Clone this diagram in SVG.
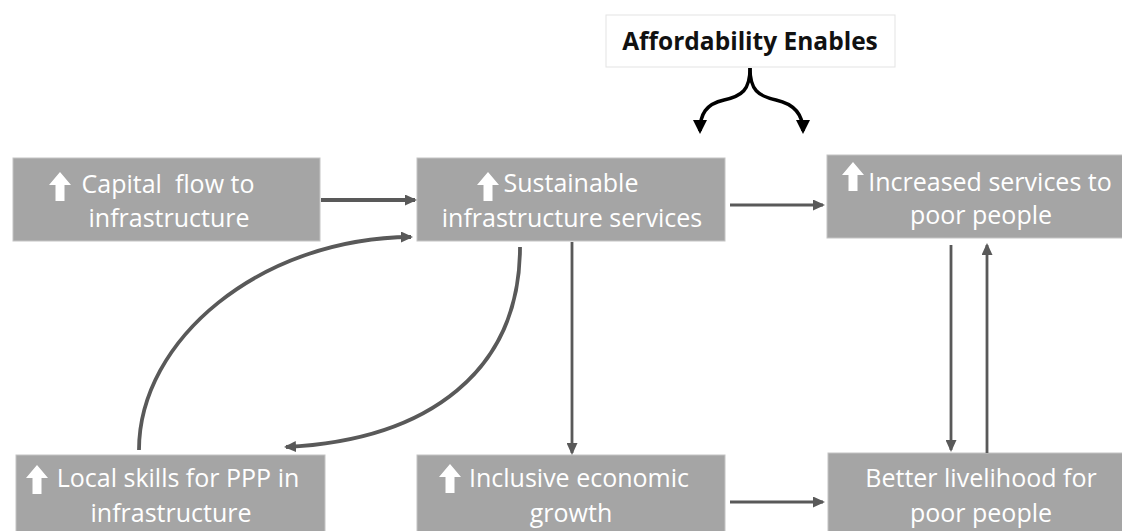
<svg xmlns="http://www.w3.org/2000/svg" xmlns:xlink="http://www.w3.org/1999/xlink" width="1122" height="531" viewBox="0 0 1122 531">
  <style>
    .box { fill: #a5a5a5; stroke: #c4c4c4; stroke-width: 1; }
    .lbl { font-family: "Open Sans", "Liberation Sans", sans-serif; font-size: 25px; fill: #ffffff; text-anchor: middle; white-space: pre; }
    .up { fill: #ffffff; }
    .conn { fill: none; stroke: #595959; stroke-width: 2.8; marker-end: url(#head); }
    .thick { stroke-width: 3.8; }
    .brace { fill: none; stroke: #000000; stroke-width: 3.4; marker-end: url(#bhead); }
    .title { font-family: "Open Sans", "Liberation Sans", sans-serif; font-size: 24.5px; font-weight: bold; fill: #111111; text-anchor: middle; }
  </style>
  <defs>
    <marker id="head" markerWidth="12" markerHeight="11" refX="10" refY="5.5" orient="auto" markerUnits="userSpaceOnUse">
      <path d="M0,0 L12,5.5 L0,11 Z" fill="#595959"/>
    </marker>
    <marker id="bhead" markerWidth="14" markerHeight="14" refX="11" refY="7" orient="auto" markerUnits="userSpaceOnUse">
      <path d="M0,0 L14,7 L0,14 Z" fill="#000000"/>
    </marker>
    <!-- white "increase" block arrow, 22 wide x 29 tall -->
    <path id="uparrow" class="up" d="M11,0 L22,13 L15.5,13 L15.5,29 L6.5,29 L6.5,13 L0,13 Z"/>
  </defs>

  <rect width="1122" height="531" fill="#ffffff"/>

  <!-- header label with its forked brace -->
  <g id="affordability">
    <rect x="606" y="15" width="289" height="52" fill="#ffffff" stroke="#e3e3e3" stroke-width="1"/>
    <text class="title" x="750" y="50">Affordability Enables</text>
    <path class="brace" d="M750,68 C750,90 742,96 724,100 C706,104 700,114 700,131"/>
    <path class="brace" d="M750,68 C750,90 758,96 776,100 C794,104 803,114 803,131"/>
  </g>

  <g id="capital">
    <rect class="box" x="13" y="158" width="307" height="83"/>
    <use xlink:href="#uparrow" x="49" y="172"/>
    <text class="lbl" x="168" y="193" xml:space="preserve">Capital  flow to</text>
    <text class="lbl" x="169" y="227">infrastructure</text>
  </g>

  <g id="sustainable">
    <rect class="box" x="417" y="158" width="308" height="83"/>
    <use xlink:href="#uparrow" x="477" y="172"/>
    <text class="lbl" x="571" y="192">Sustainable</text>
    <text class="lbl" x="572" y="227">infrastructure services</text>
  </g>

  <g id="increased">
    <rect class="box" x="827" y="155" width="300" height="83"/>
    <use xlink:href="#uparrow" x="842" y="162"/>
    <text class="lbl" x="990" y="191">Increased services to</text>
    <text class="lbl" x="981" y="224">poor people</text>
  </g>

  <g id="local">
    <rect class="box" x="16" y="455" width="309" height="80"/>
    <use xlink:href="#uparrow" x="26" y="465"/>
    <text class="lbl" x="178" y="487">Local skills for PPP in</text>
    <text class="lbl" x="171" y="522">infrastructure</text>
  </g>

  <g id="inclusive">
    <rect class="box" x="417" y="455" width="308" height="80"/>
    <use xlink:href="#uparrow" x="439" y="464"/>
    <text class="lbl" x="579" y="487">Inclusive economic</text>
    <text class="lbl" x="571" y="522">growth</text>
  </g>

  <g id="better">
    <rect class="box" x="828" y="453" width="300" height="82"/>
    <text class="lbl" x="981" y="487">Better livelihood for</text>
    <text class="lbl" x="981" y="522">poor people</text>
  </g>

  <g id="connectors">
    <path class="conn thick" d="M321,200 L415,200"/>
    <path class="conn" d="M730,205 L823,205"/>
    <path class="conn" d="M572,242 L572,453"/>
    <path class="conn" d="M730,502 L823,502"/>
    <path class="conn" d="M951,245 L951,450"/>
    <path class="conn" d="M987,453 L987,245"/>
    <path class="conn thick" d="M139,450 C139,340 260,238 411,237"/>
    <path class="conn thick" d="M520,247 C520,370 430,440 286,447"/>
  </g>
</svg>
